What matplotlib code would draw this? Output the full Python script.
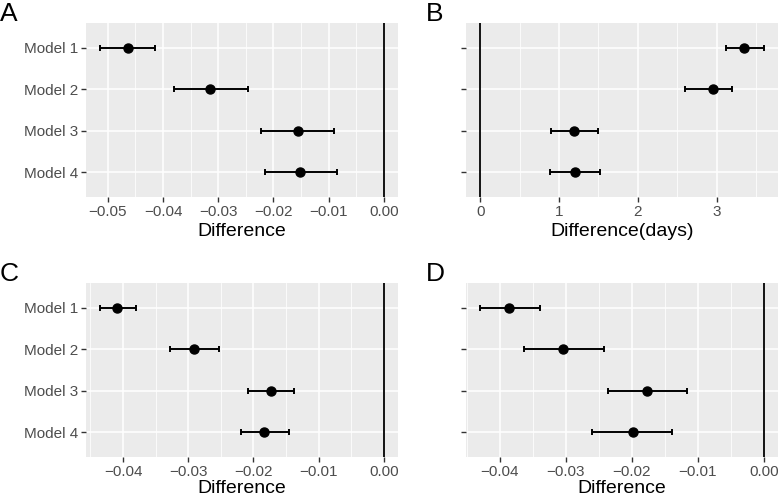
import matplotlib
matplotlib.use("Agg")
import matplotlib.pyplot as plt
from matplotlib.ticker import MultipleLocator, FuncFormatter

plt.rcParams['font.family'] = ['Liberation Sans', 'DejaVu Sans']

models = ["Model 1", "Model 2", "Model 3", "Model 4"]

# panel A
a_est = [-0.0464, -0.0315, -0.0156, -0.0151]
a_low = [-0.0514, -0.0380, -0.0222, -0.0216]
a_high = [-0.0414, -0.0247, -0.0091, -0.0085]

# panel B (days)
b_est = [3.35, 2.96, 1.19, 1.20]
b_low = [3.12, 2.60, 0.90, 0.89]
b_high = [3.60, 3.20, 1.50, 1.52]

# panel C
c_est = [-0.0409, -0.0291, -0.0173, -0.0184]
c_low = [-0.0435, -0.0328, -0.0209, -0.0219]
c_high = [-0.0380, -0.0253, -0.0137, -0.0146]

# panel D
d_est = [-0.0386, -0.0305, -0.0177, -0.0199]
d_low = [-0.0430, -0.0363, -0.0236, -0.0260]
d_high = [-0.0340, -0.0242, -0.0117, -0.0139]

W, H = 778, 498
fig = plt.figure(figsize=(W / 100, H / 100), dpi=100)


def px_axes(left, top, right, bottom):
    return fig.add_axes([left / W, 1 - bottom / H, (right - left) / W, (bottom - top) / H])


def make_fmt(decimals):
    def f(v, pos):
        v = round(v, decimals)
        if v == 0:
            v = 0.0
        return f"{v:.{decimals}f}".replace('-', '\u2212')
    return FuncFormatter(f)


def forest(ax, est, low, high, xlabel, major, decimals, show_labels, labelpad=3):
    n = len(models)
    ypos = list(range(n, 0, -1))
    ax.set_facecolor('#EBEBEB')
    for s in ax.spines.values():
        s.set_visible(False)
    ax.xaxis.set_major_locator(MultipleLocator(major))
    ax.xaxis.set_minor_locator(MultipleLocator(major / 2))
    ax.xaxis.set_major_formatter(make_fmt(decimals))
    ax.grid(which='major', color='white', lw=1.1, zorder=0)
    ax.grid(which='minor', axis='x', color='white', lw=0.55, zorder=0)
    ax.set_axisbelow(True)
    ax.axvline(0, color='black', lw=1.3, zorder=2)
    ax.errorbar(est, ypos, xerr=[[e - l for e, l in zip(est, low)],
                                 [h - e for e, h in zip(est, high)]],
                fmt='o', color='black', ms=6.5, elinewidth=1.4,
                capsize=2, capthick=1.4, zorder=3)
    lo = min(min(low), 0)
    hi = max(max(high), 0)
    pad = (hi - lo) * 0.05
    ax.set_xlim(lo - pad, hi + pad)
    ax.set_ylim(0.4, n + 0.6)
    ax.set_yticks(ypos)
    ax.set_yticklabels(models if show_labels else [''] * n)
    ax.tick_params(which='major', length=3.5, width=1.0, color='#333333',
                   labelcolor='#4D4D4D', labelsize=11, pad=2)
    ax.tick_params(which='minor', length=0)
    ax.set_xlabel(xlabel, fontsize=14, color='black', labelpad=labelpad)
    return ax


axA = px_axes(86, 23, 398, 197)
forest(axA, a_est, a_low, a_high, 'Difference', 0.01, 2, True)
axB = px_axes(466, 23, 778, 197)
forest(axB, b_est, b_low, b_high, 'Difference(days)', 1, 0, False)
axC = px_axes(86, 283, 398, 457)
forest(axC, c_est, c_low, c_high, 'Difference', 0.01, 2, True, labelpad=1)
axD = px_axes(466, 283, 778, 457)
forest(axD, d_est, d_low, d_high, 'Difference', 0.01, 2, False, labelpad=1)

for tag, x, y in [('A', 0, 2), ('B', 426, 2), ('C', 0, 262), ('D', 426, 262)]:
    fig.text(x / W, 1 - y / H, tag, fontsize=19, va='top', ha='left')

fig.savefig('out.png', dpi=100)
